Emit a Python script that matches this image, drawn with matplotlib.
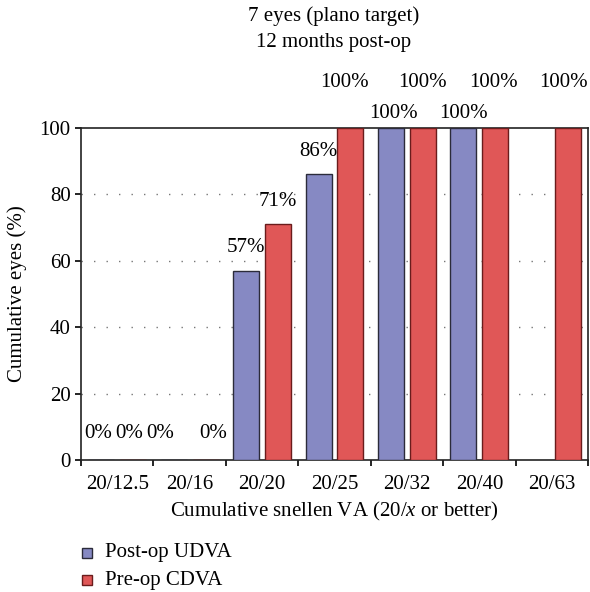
import matplotlib
matplotlib.use("Agg")
import matplotlib.pyplot as plt
import numpy as np
from matplotlib.patches import Rectangle

plt.rcParams['font.family'] = ['Liberation Serif', 'DejaVu Serif']
plt.rcParams['mathtext.fontset'] = 'custom'
plt.rcParams['mathtext.rm'] = 'Liberation Serif'
plt.rcParams['mathtext.it'] = 'Liberation Serif:italic'

categories = ["20/12.5", "20/16", "20/20", "20/25", "20/32", "20/40", "20/63"]
post_udva = [0, 0, 57, 86, 100, 100, None]
pre_cdva = [0, 0, 71, 100, 100, 100, 100]
post_labels = ["0%", "0%", "57%", "86%", "100%", "100%", None]
pre_labels = ["0%", "0%", "71%", "100%", "100%", "100%", "100%"]
title_lines = ["7 eyes (plano target)", "12 months post-op"]
series_names = ["Post-op UDVA", "Pre-op CDVA"]
yticks = [0, 20, 40, 60, 80, 100]

c_blue = "#8689C3"
c_red = "#E05757"
e_blue = "#2b2b3a"
e_red = "#6a1c1c"
FS = 15

fig = plt.figure(figsize=(5.90, 5.92), dpi=100)
ax = fig.add_axes([81/590, 1-460/592, (588-81)/590, (460-128)/592])

x = np.arange(len(categories))
w = 0.36
off = 0.22

for i, v in enumerate(post_udva):
    if v is not None:
        ax.bar(x[i]-off, v, w, color=c_blue, edgecolor=e_blue, linewidth=1.0, zorder=3)
for i, v in enumerate(pre_cdva):
    if v is not None:
        ax.bar(x[i]+off, v, w, color=c_red, edgecolor=e_red, linewidth=1.0, zorder=3)

# value labels (layout nudges to avoid overlap, as in the original)
blue_dx = [-0.04, -0.19, 0.0, 0.0, 0.03, 0.0, 0.0]
red_dx = [-0.05, 0.11, 0.0, -0.08, 0.0, -0.03, -0.06]
def dy(v, series):
    if v == 0:
        return 8.0
    if v == 100:
        return 4.5 if series == 0 else 13.6
    return 7.0
for i, (v, lab) in enumerate(zip(post_udva, post_labels)):
    if v is not None and lab is not None:
        ax.text(x[i]-off+blue_dx[i], v+dy(v, 0), lab, ha='center', va='center',
                fontsize=FS, clip_on=False, zorder=5)
for i, (v, lab) in enumerate(zip(pre_cdva, pre_labels)):
    if v is not None and lab is not None:
        ax.text(x[i]+off+red_dx[i], v+dy(v, 1), lab, ha='center', va='center',
                fontsize=FS, clip_on=False, zorder=5)

ax.set_xlim(-0.5, len(categories)-0.5)
ax.set_ylim(0, 100)
ax.set_yticks(yticks)
ax.set_yticklabels([str(t) for t in yticks], fontsize=FS)
for t in yticks[1:-1]:
    ax.axhline(t, color='#777777', linewidth=1.0, linestyle=(0, (1, 8)), zorder=1)

ax.set_xticks(x)
ax.set_xticklabels(categories, fontsize=FS)
ax.set_xticks(np.arange(len(categories)+1)-0.5, minor=True)
ax.tick_params(axis='x', which='major', length=0, pad=11)
ax.tick_params(axis='x', which='minor', length=4.5, width=1.2, direction='out')
ax.tick_params(axis='y', length=4.5, width=1.2, direction='out', pad=3)

for s in ax.spines.values():
    s.set_linewidth(1.2)
    s.set_color('#222222')

ax.set_ylabel("Cumulative eyes (%)", fontsize=FS, labelpad=9)
ax.set_xlabel("Cumulative snellen VA (20/$\\mathit{x}$ or better)", fontsize=FS, labelpad=4)

fig.text(334/590, 1-16/592, title_lines[0], ha='center', va='center', fontsize=FS)
fig.text(334/590, 1-42/592, title_lines[1], ha='center', va='center', fontsize=FS)

# legend
for j, (name, fc, ec) in enumerate(zip(series_names, [c_blue, c_red], [e_blue, e_red])):
    yc = 553 + 27*j
    fig.patches.append(Rectangle((82/590, 1-(yc+5)/592), 10/590, 10/592,
                                 transform=fig.transFigure, facecolor=fc,
                                 edgecolor=ec, linewidth=1.0))
    fig.text(105/590, 1-yc/592, name, ha='left', va='center', fontsize=FS)

fig.savefig("out.png", dpi=100)
